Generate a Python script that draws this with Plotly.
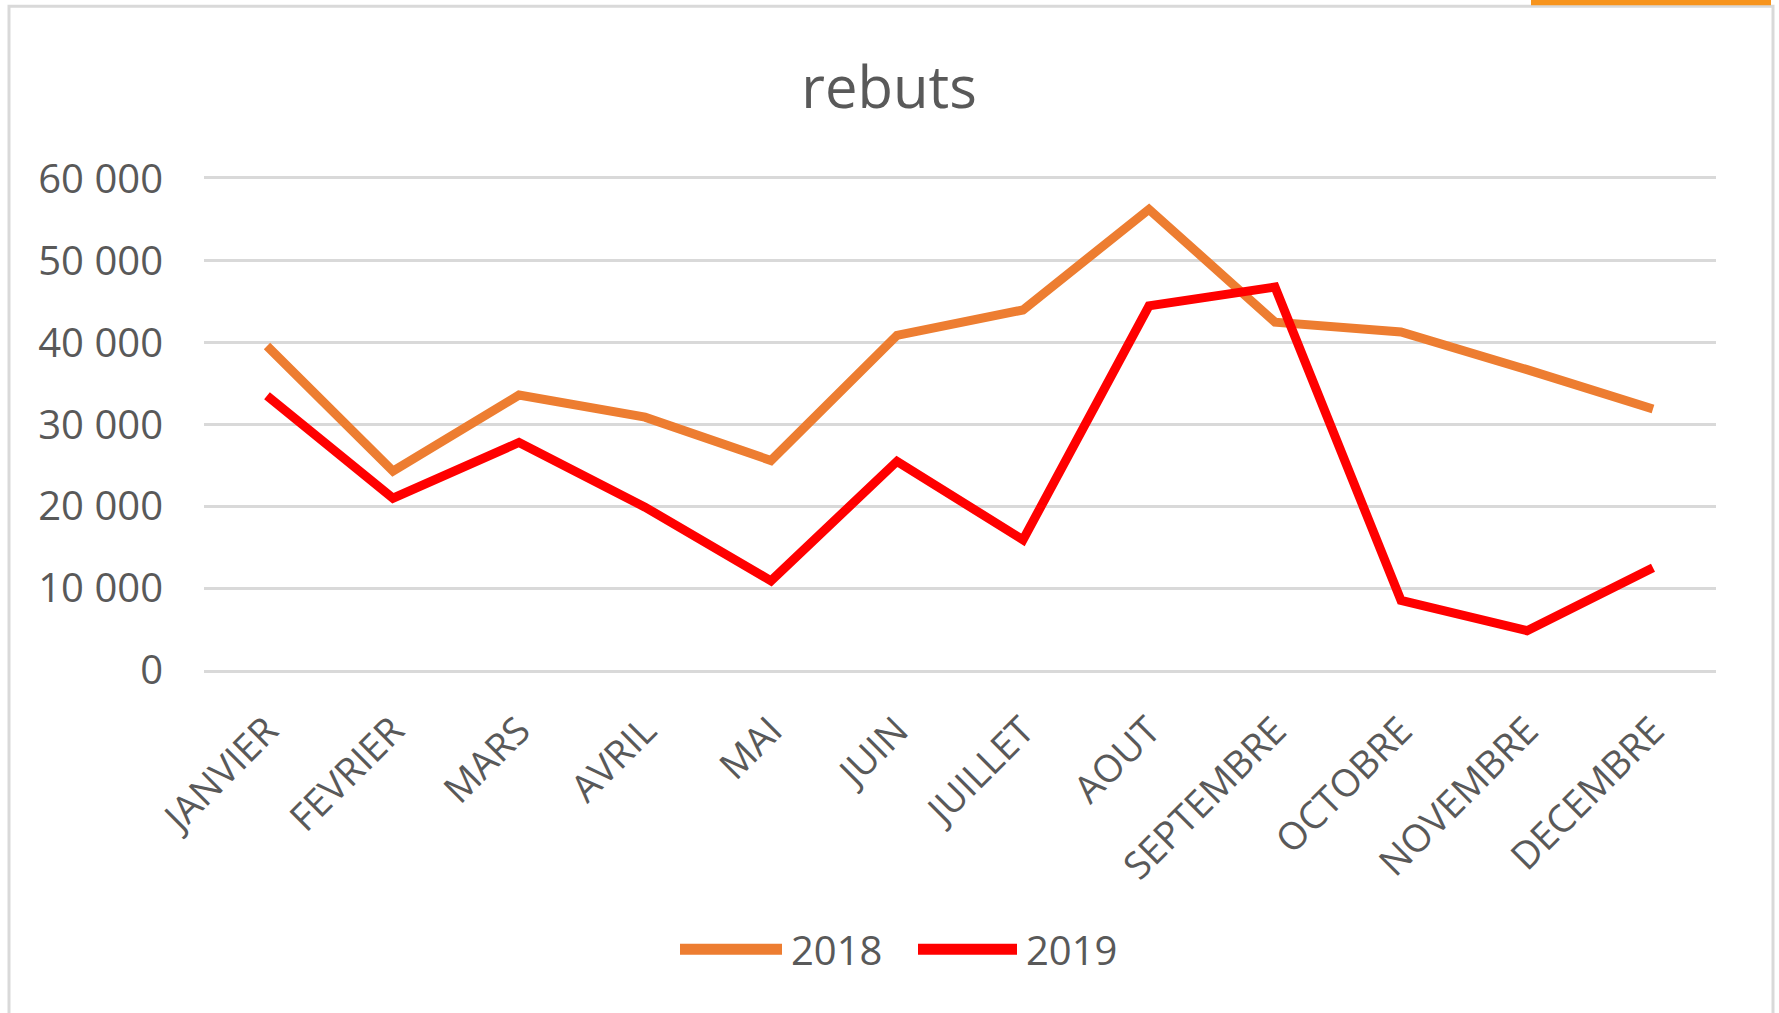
import plotly.graph_objects as go

months = ["JANVIER", "FEVRIER", "MARS", "AVRIL", "MAI", "JUIN", "JUILLET",
          "AOUT", "SEPTEMBRE", "OCTOBRE", "NOVEMBRE", "DECEMBRE"]
rebuts_2018 = [39600, 24300, 33600, 30900, 25600, 40900, 44000, 56300, 42500, 41300, 36700, 31900]
rebuts_2019 = [33500, 21000, 27800, 19900, 10900, 25500, 15900, 44500, 46800, 8500, 4800, 12500]
series_names = ["2018", "2019"]
y_tick_vals = [0, 10000, 20000, 30000, 40000, 50000, 60000]
y_tick_text = ["0", "10 000", "20 000", "30 000", "40 000", "50 000", "60 000"]

colors = ["#ED7D31", "#FF0000"]
W, H = 1779, 1013
L, R, T, B = 204, 1716, 179, 670.5
FONT = "Open Sans"
GREY = "#595959"
GRID = "#D9D9D9"

def px_x(px):
    return (px - L) / (R - L)

def px_y(py):
    return (B - py) / (B - T)

fig = go.Figure()
for name, vals, col in zip(series_names, [rebuts_2018, rebuts_2019], colors):
    fig.add_trace(go.Scatter(
        x=months, y=vals, name=name, mode="lines",
        line=dict(color=col, width=9),
        showlegend=False,
    ))

shapes = [
    # outer chart frame
    dict(type="rect", xref="paper", yref="paper",
         x0=px_x(9), x1=px_x(1773), y0=px_y(1030), y1=px_y(6),
         line=dict(color=GRID, width=3), fillcolor="rgba(0,0,0,0)", layer="below"),
    # orange strip at top right
    dict(type="rect", xref="paper", yref="paper",
         x0=px_x(1531), x1=px_x(1771), y0=px_y(5), y1=px_y(-2),
         line=dict(width=0), fillcolor="#F7941D"),
]
annotations = []
leg_y = px_y(950)
leg_items = [(680, 782, 789), (918, 1017, 1024)]
for (lx0, lx1, tx), name, col in zip(leg_items, series_names, colors):
    shapes.append(dict(type="line", xref="paper", yref="paper",
                       x0=px_x(lx0), x1=px_x(lx1), y0=leg_y, y1=leg_y,
                       line=dict(color=col, width=11)))
    annotations.append(dict(xref="paper", yref="paper", x=px_x(tx), y=leg_y,
                            text=name, showarrow=False, xanchor="left", yanchor="middle",
                            font=dict(family=FONT, size=40, color=GREY)))

fig.update_layout(
    width=W, height=H,
    margin=dict(l=L, r=W - R, t=T, b=H - B, pad=0),
    paper_bgcolor="white", plot_bgcolor="white",
    title=dict(text="rebuts", x=889 / W, xanchor="center",
               y=1 - 88 / H, yanchor="middle",
               font=dict(family=FONT, size=58, color=GREY)),
    xaxis=dict(type="category", range=[-0.5, 11.5], showgrid=False, zeroline=False,
               showline=True, mirror=True, linecolor=GRID, linewidth=3,
               tickangle=-45, ticks="",
               tickfont=dict(family=FONT, size=38, color=GREY),
               ticklabelstandoff=20),
    yaxis=dict(range=[0, 60000], tickvals=y_tick_vals, ticktext=y_tick_text,
               showgrid=True, gridcolor=GRID, gridwidth=3,
               zeroline=False, showline=False, ticks="",
               tickfont=dict(family=FONT, size=40, color=GREY),
               ticklabelstandoff=40),
    shapes=shapes,
    annotations=annotations,
)

fig.write_html("out.html", config={"displayModeBar": False},
               post_script="document.body.style.margin='0';")
